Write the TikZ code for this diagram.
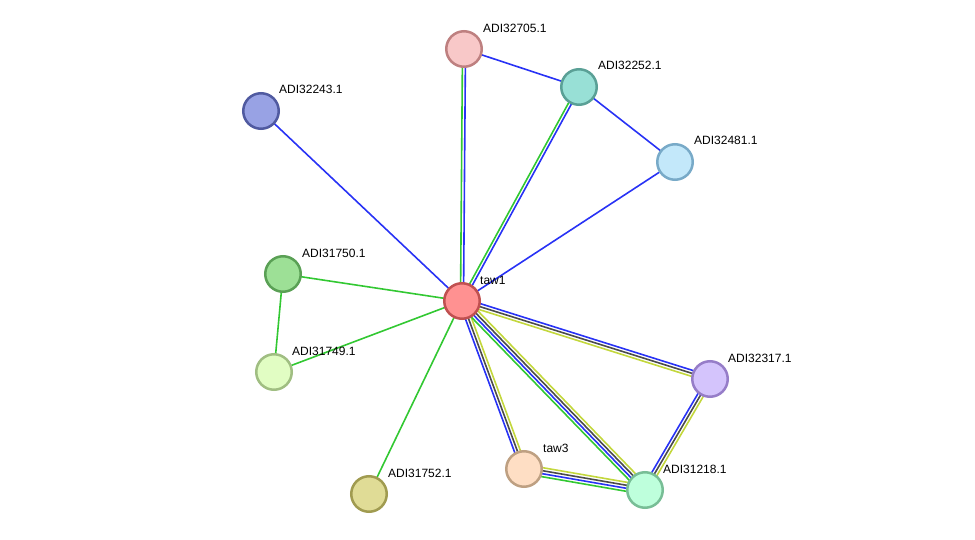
\documentclass[tikz,border=0pt]{standalone}
\usepackage{fontspec}
\setmainfont{Liberation Sans}
\usetikzlibrary{calc,backgrounds}
\definecolor{ecblue}{RGB}{40,50,245}
\definecolor{ecgreen}{RGB}{50,200,50}
\definecolor{ecyellow}{RGB}{195,215,60}
\definecolor{ecgray}{RGB}{75,75,75}
\definecolor{fA}{RGB}{255,145,145}\definecolor{dA}{RGB}{192,80,80}
\definecolor{fB}{RGB}{248,200,200}\definecolor{dB}{RGB}{190,128,128}
\definecolor{fC}{RGB}{152,224,214}\definecolor{dC}{RGB}{90,160,150}
\definecolor{fD}{RGB}{195,232,250}\definecolor{dD}{RGB}{120,170,200}
\definecolor{fE}{RGB}{152,162,228}\definecolor{dE}{RGB}{80,90,160}
\definecolor{fF}{RGB}{157,224,150}\definecolor{dF}{RGB}{90,160,85}
\definecolor{fG}{RGB}{225,253,195}\definecolor{dG}{RGB}{160,190,130}
\definecolor{fH}{RGB}{224,220,150}\definecolor{dH}{RGB}{160,155,80}
\definecolor{fI}{RGB}{254,222,196}\definecolor{dI}{RGB}{190,160,130}
\definecolor{fJ}{RGB}{190,255,220}\definecolor{dJ}{RGB}{120,190,150}
\definecolor{fK}{RGB}{212,196,252}\definecolor{dK}{RGB}{150,125,200}
\newcommand{\medge}[3]{%
  \foreach \c [count=\i] in {#3} {\xdef\mnn{\i}}%
  \foreach \c [count=\i] in {#3} {%
    \pgfmathsetmacro{\off}{((\mnn+1)/2-\i)*3}%
    \draw[edgeline,\c] ($(#1)!\off pt!90:(#2)$) -- ($(#2)!\off pt!-90:(#1)$);
  }%
}
\tikzset{
  prot/.style n args={2}{circle, minimum size=35.5pt, inner sep=0pt, line width=2.5pt, fill=#1, draw=#2},
  lab/.style={anchor=west, inner sep=0pt, font=\fontsize{12}{13}\selectfont},
  edgeline/.style={line width=1.6pt}
}
\begin{document}
\begin{tikzpicture}[x=1pt,y=-1pt]
\useasboundingbox (0,0) rectangle (975,540);
\node[prot={fA}{dA}] (taw1) at (462,301) {};
\node[prot={fB}{dB}] (p705) at (464,49) {};
\node[prot={fC}{dC}] (p252) at (579,87) {};
\node[prot={fD}{dD}] (p481) at (675,162) {};
\node[prot={fE}{dE}] (p243) at (261,111) {};
\node[prot={fF}{dF}] (p750) at (283,274) {};
\node[prot={fG}{dG}] (p749) at (274,372) {};
\node[prot={fH}{dH}] (p752) at (369,494) {};
\node[prot={fI}{dI}] (taw3) at (524,469) {};
\node[prot={fJ}{dJ}] (p218) at (645,490) {};
\node[prot={fK}{dK}] (p317) at (710,379) {};

\node[lab] (l1) at ($(taw1)+(18,-21)$) {taw1};
\node[lab] (l2) at ($(p705)+(19,-21)$) {ADI32705.1};
\node[lab] (l3) at ($(p252)+(19,-22)$) {ADI32252.1};
\node[lab] (l4) at ($(p481)+(19,-22)$) {ADI32481.1};
\node[lab] (l5) at ($(p243)+(18,-22)$) {ADI32243.1};
\node[lab] (l6) at ($(p750)+(19,-21)$) {ADI31750.1};
\node[lab] (l7) at ($(p749)+(18,-21)$) {ADI31749.1};
\node[lab] (l8) at ($(p752)+(19,-21)$) {ADI31752.1};
\node[lab] (l9) at ($(taw3)+(19,-21)$) {taw3};
\node[lab] (l10) at ($(p218)+(18,-21)$) {ADI31218.1};
\node[lab] (l11) at ($(p317)+(18,-21)$) {ADI32317.1};

\begin{scope}[on background layer]
\medge{taw1}{p705}{ecgreen,ecblue}
\medge{taw1}{p252}{ecgreen,ecblue}
\medge{taw1}{p243}{ecblue}
\medge{taw1}{p481}{ecblue}
\medge{p705}{p252}{ecblue}
\medge{p252}{p481}{ecblue}
\medge{taw1}{p750}{ecgreen}
\medge{taw1}{p749}{ecgreen}
\medge{p750}{p749}{ecgreen}
\medge{taw1}{p752}{ecgreen}
\medge{taw1}{p317}{ecblue,ecgray,ecyellow}
\medge{taw1}{taw3}{ecyellow,ecgray,ecblue}
\medge{taw1}{p218}{ecyellow,ecgray,ecblue,ecgreen}
\medge{taw3}{p218}{ecyellow,ecgray,ecblue,ecgreen}
\medge{p218}{p317}{ecblue,ecgray,ecyellow}
\end{scope}
\end{tikzpicture}
\end{document}
